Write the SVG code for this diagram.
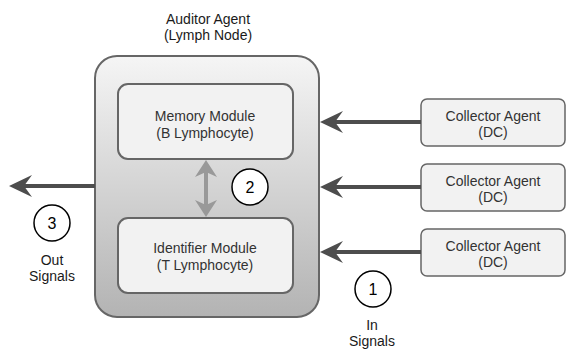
<svg xmlns="http://www.w3.org/2000/svg" width="567" height="351" viewBox="0 0 567 351">
<defs>
<linearGradient id="g" x1="0" y1="0" x2="0" y2="1">
<stop offset="0" stop-color="#f5f5f5"/>
<stop offset="1" stop-color="#b3b3b3"/>
</linearGradient>
</defs>
<style>
text{font-family:"Liberation Sans",Arial,sans-serif;font-size:14px;text-anchor:middle}
.mod{fill:#f2f2f2;stroke:#666;stroke-width:2}
.col{fill:#f2f2f2;stroke:#666;stroke-width:1.5}
.dark{fill:#333}
.lbl{fill:#1a1a1a}
.num{fill:#fff;stroke:#000;stroke-width:1.5}
.n{font-size:16px;fill:#000}
.arr{stroke:#4d4d4d;stroke-width:4;fill:none}
.head{fill:#4d4d4d}
</style>
<g id="auditor">
<rect x="95" y="56" width="224" height="261" rx="22" fill="url(#g)" stroke="#666" stroke-width="2"/>
<text class="lbl" x="208" y="24">Auditor Agent</text>
<text class="lbl" x="208" y="40">(Lymph Node)</text>
</g>
<g id="memory">
<rect class="mod" x="118" y="84" width="175" height="75" rx="10"/>
<text class="dark" x="205" y="121">Memory Module</text>
<text class="dark" x="205" y="138">(B Lymphocyte)</text>
</g>
<g id="identifier">
<rect class="mod" x="118" y="218" width="175" height="75" rx="10"/>
<text class="dark" x="205" y="253">Identifier Module</text>
<text class="dark" x="205" y="270">(T Lymphocyte)</text>
</g>
<g id="collector1">
<rect class="col" x="421" y="99" width="144" height="47" rx="6"/>
<text class="dark" x="493" y="121">Collector Agent</text>
<text class="dark" x="493" y="137">(DC)</text>
</g>
<g id="collector2">
<rect class="col" x="421" y="164" width="144" height="47" rx="6"/>
<text class="dark" x="493" y="186">Collector Agent</text>
<text class="dark" x="493" y="202">(DC)</text>
</g>
<g id="collector3">
<rect class="col" x="421" y="229" width="144" height="47" rx="6"/>
<text class="dark" x="493" y="251">Collector Agent</text>
<text class="dark" x="493" y="267">(DC)</text>
</g>
<g id="connectors">
<line class="arr" x1="421" y1="122" x2="334" y2="122"/>
<path class="head" d="M320,122 L343,111 L335,122 L343,133 Z"/>
<line class="arr" x1="421" y1="187" x2="334" y2="187"/>
<path class="head" d="M320,187 L343,176 L335,187 L343,198 Z"/>
<line class="arr" x1="421" y1="252" x2="334" y2="252"/>
<path class="head" d="M320,252 L343,241 L335,252 L343,263 Z"/>
<line class="arr" x1="95" y1="186" x2="22" y2="186"/>
<path class="head" d="M9,186 L32,175 L24,186 L32,197 Z"/>
<line x1="206" y1="172" x2="206" y2="205" stroke="#999" stroke-width="4"/>
<path d="M206,160 L217,177 L206,172 L195,177 Z" fill="#999"/>
<path d="M206,217 L217,200 L206,205 L195,200 Z" fill="#999"/>
</g>
<g id="step2">
<circle class="num" cx="250" cy="187" r="18"/>
<text class="n" x="250" y="193">2</text>
</g>
<g id="step3">
<circle class="num" cx="52" cy="223" r="18"/>
<text class="n" x="52" y="229">3</text>
<text class="lbl" x="52" y="265">Out</text>
<text class="lbl" x="52" y="281">Signals</text>
</g>
<g id="step1">
<circle class="num" cx="373" cy="289" r="18"/>
<text class="n" x="373" y="295">1</text>
<text class="lbl" x="372" y="330">In</text>
<text class="lbl" x="372" y="346">Signals</text>
</g>
</svg>
